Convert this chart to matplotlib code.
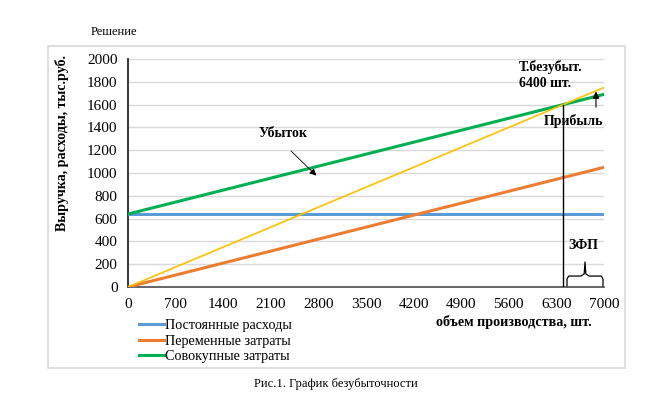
import numpy as np
import matplotlib.pyplot as plt
from matplotlib.patches import Rectangle

# data
volume = [0, 700, 1400, 2100, 2800, 3500, 4200, 4900, 5600, 6300, 7000]
fixed_cost = 640
var_per_unit = 0.15
price = 0.25
fixed = [fixed_cost for v in volume]
variable = [var_per_unit * v for v in volume]
total = [fixed_cost + var_per_unit * v for v in volume]
revenue = [price * v for v in volume]
breakeven = 6400
series_names = ["Постоянные расходы", "Переменные затраты", "Совокупные затраты"]

plt.rcParams['font.family'] = ['Liberation Serif', 'DejaVu Serif']
plt.rcParams['font.size'] = 11

W, H = 656, 405
fig = plt.figure(figsize=(W / 100, H / 100), dpi=100)
ax = fig.add_axes([128 / W, 1 - 287 / H, (604 - 128) / W, (287 - 59) / H])

# chart area border
fig.patches.append(Rectangle((48 / W, 1 - 368 / H), (625 - 48) / W, (368 - 46) / H,
                             transform=fig.transFigure, fill=False,
                             edgecolor='#D9D9D9', lw=1.2))

ax.plot(volume, fixed, color='#5B9BD5', lw=2.2, label=series_names[0], zorder=3)
ax.plot(volume, variable, color='#ED7D31', lw=2.2, label=series_names[1], zorder=3)
ax.plot(volume, total, color='#00B050', lw=2.2, label=series_names[2], zorder=3)
ax.plot(volume, revenue, color='#FFC000', lw=1.2, zorder=3)

ax.set_xlim(0, 7000)
ax.set_ylim(0, 2000)
ax.set_xticks(volume)
ax.set_yticks(range(0, 2001, 200))
ax.tick_params(length=0)
ax.tick_params(axis='y', pad=7.5)
ax.tick_params(axis='x', pad=8)
ax.grid(axis='y', color='#D9D9D9', lw=1)
ax.set_axisbelow(True)
for s in ['top', 'right']:
    ax.spines[s].set_visible(False)
ax.spines['left'].set_color('#262626')
ax.spines['left'].set_linewidth(1.3)
ax.spines['bottom'].set_color('#595959')
ax.spines['bottom'].set_linewidth(1.3)

# break-even marker
be_y = price * breakeven
ax.plot([breakeven, breakeven], [0, be_y], color='black', lw=1, zorder=4)
ax.text(5750, 1995, "Т.безубыт.\n6400 шт.", fontweight='bold', fontsize=10,
        va='top', ha='left', linespacing=1.35)

ax.annotate("", xy=(2800, 960), xytext=(2368, 1210),
            arrowprops=dict(arrowstyle='-|>', color='black', lw=0.6, mutation_scale=10))
ax.text(1920, 1350, "Убыток", fontweight='bold', fontsize=10, ha='left', va='center')

ax.annotate("", xy=(6882, 1740), xytext=(6882, 1553),
            arrowprops=dict(arrowstyle='-|>', color='black', lw=0.8, mutation_scale=10))
ax.text(6995, 1455, "Прибыль", fontweight='bold', fontsize=10, ha='right', va='center')

# brace for ЗФП
bx0, bx1 = 6456, 6985
bm = (bx0 + bx1) / 2
ax.plot([bx0, bx0, bx0 + 25, bm - 60, bm - 12, bm, bm + 12, bm + 60, bx1 - 25, bx1, bx1],
        [0, 70, 96, 96, 115, 219, 115, 96, 96, 70, 0],
        color='black', lw=0.9, clip_on=False, solid_joinstyle='round')
ax.text(6470, 360, "ЗФП", fontweight='bold', fontsize=10, ha='left', va='center')

ax.text(0.975, -0.123, "объем производства, шт.", transform=ax.transAxes,
        fontweight='bold', fontsize=10.2, ha='right', va='top')
fig.text(62 / W, 1 - 143 / H, "Выручка, расходы, тыс.руб.", rotation=90,
         fontweight='bold', fontsize=10.1, ha='center', va='center')

ax.legend(loc='upper left', bbox_to_anchor=(139 / W, 1 - 319 / H),
          bbox_transform=fig.transFigure, frameon=False, handlelength=1.75,
          handletextpad=0.1, labelspacing=0.18, borderpad=0, borderaxespad=0,
          fontsize=10.2)

fig.text(91 / W, 1 - 32 / H, "Решение", fontsize=9, ha='left', va='center')
fig.text(336 / W, 1 - 384 / H, "Рис.1. График безубыточности", fontsize=9,
         ha='center', va='center')

fig.savefig("out.png", dpi=100)
